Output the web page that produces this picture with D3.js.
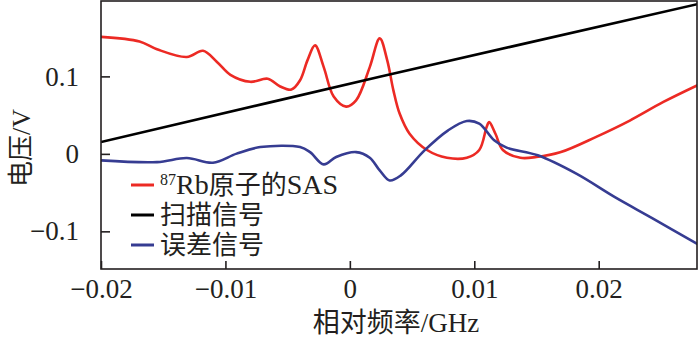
<!DOCTYPE html>
<html><head><meta charset="utf-8">
<script src="https://cdn.jsdelivr.net/npm/d3@7"></script>
<style>
html,body{margin:0;padding:0;background:#fff;}
text{font-family:"Liberation Serif",serif;fill:#231f20;}
.cjk{font-family:"Noto Sans CJK SC",sans-serif;}
</style></head>
<body><svg id="c" width="700" height="341"></svg>
<script>
// Data (frequency in GHz, voltage in V)
const sasX = [-0.0200,-0.0169,-0.0155,-0.0131,-0.0118,-0.0107,-0.0096,-0.0080,-0.0066,-0.0056,-0.0047,-0.0040,-0.0034,-0.0028,-0.0021,-0.0013,-0.0003,0.0005,0.0016,0.0024,0.0030,0.0035,0.0040,0.0048,0.0062,0.0078,0.0094,0.0104,0.0110,0.0112,0.0117,0.0123,0.0137,0.0150,0.0169,0.0198,0.0225,0.0252,0.0280];
const sasY = [0.151,0.145,0.135,0.125,0.133,0.119,0.102,0.093,0.097,0.087,0.083,0.095,0.121,0.140,0.112,0.074,0.061,0.069,0.112,0.149,0.121,0.082,0.052,0.026,0.005,-0.005,-0.005,0.005,0.035,0.041,0.026,0.005,-0.005,-0.004,0.002,0.022,0.043,0.067,0.089];
const scanX = [-0.0200,0.0024,0.0280];
const scanY = [0.0153,0.0994,0.1935];
const errX = [-0.0200,-0.0155,-0.0131,-0.0110,-0.0091,-0.0072,-0.0040,-0.0032,-0.0021,-0.0011,0.0005,0.0016,0.0024,0.0032,0.0041,0.0060,0.0079,0.0094,0.0104,0.0116,0.0126,0.0151,0.0182,0.0213,0.0244,0.0280];
const errY = [-0.0084,-0.0106,-0.0054,-0.0114,0.0003,0.0088,0.0088,0.0023,-0.0136,-0.0041,0.0023,-0.0049,-0.0213,-0.0343,-0.0278,0.0045,0.0304,0.0424,0.0391,0.0175,0.0080,-0.0019,-0.0256,-0.0559,-0.0838,-0.1170];
const xTicks = [-0.02,-0.01,0,0.01,0.02];
const xTickLabels = ["\u22120.02","\u22120.01","0","0.01","0.02"];
const yTicks = [-0.1,0,0.1];
const yTickLabels = ["\u22120.1","0","0.1"];
// legend pieces: [superscript, latin prefix, cjk, latin suffix]
const legendLabels = [["87","Rb","原子的","SAS"],["","","扫描信号",""],["","","误差信号",""]];
const colors = ["#ec2a24","#000000","#363c92"];

const svg = d3.select("#c");
const L=101,R=697,T=1,B=269;
const x = d3.scaleLinear().domain([-0.02,0.0279]).range([L,R]);
const y = d3.scaleLinear().domain([-0.1486,0.1973]).range([B,T]);

const series = [[sasX,sasY],[scanX,scanY],[errX,errY]];
const line = d3.line().x(d=>x(d[0])).y(d=>y(d[1])).curve(d3.curveCatmullRom.alpha(0.5));
svg.append("clipPath").attr("id","cp").append("rect").attr("x",L).attr("y",T).attr("width",R-L).attr("height",B-T);
const g = svg.append("g").attr("clip-path","url(#cp)");
series.forEach((s,i)=>{
  const pts = s[0].map((v,j)=>[v,s[1][j]]);
  g.append("path").attr("d",line(pts)).attr("fill","none").attr("stroke",colors[i]).attr("stroke-width",2.6).attr("stroke-linejoin","round");
});

// frame
svg.append("rect").attr("x",L).attr("y",T).attr("width",R-L).attr("height",B-T).attr("fill","none").attr("stroke","#231f20").attr("stroke-width",1.6);

// x axis
const xa = svg.append("g").attr("transform",`translate(0,${B})`)
  .call(d3.axisBottom(x).tickValues(xTicks).tickSizeInner(-8).tickSizeOuter(0).tickFormat((d,i)=>xTickLabels[i]).tickPadding(10));
xa.select(".domain").remove();
xa.selectAll("line").attr("stroke","#231f20").attr("stroke-width",1.6);
xa.selectAll("text").attr("font-size",27).attr("fill","#231f20").attr("font-family","Liberation Serif").attr("dy","0.71em");

const ya = svg.append("g").attr("transform",`translate(${L},0)`)
  .call(d3.axisLeft(y).tickValues(yTicks).tickSizeInner(-9).tickSizeOuter(0).tickFormat((d,i)=>yTickLabels[i]).tickPadding(22));
ya.select(".domain").remove();
ya.selectAll("line").attr("stroke","#231f20").attr("stroke-width",1.6);
ya.selectAll("text").attr("font-size",27).attr("fill","#231f20").attr("font-family","Liberation Serif");

// axis titles
const xt = svg.append("text").attr("x",396).attr("y",332).attr("text-anchor","middle").attr("font-size",27);
xt.append("tspan").attr("class","cjk").text("相对频率");
xt.append("tspan").text("/GHz");
const yt = svg.append("text").attr("transform","translate(30,148) rotate(-90)").attr("text-anchor","middle").attr("font-size",26);
yt.append("tspan").attr("class","cjk").text("电压");
yt.append("tspan").text("/V");

// legend
const ly = [185,215,245];
legendLabels.forEach((p,i)=>{
  svg.append("line").attr("x1",131).attr("x2",154).attr("y1",ly[i]).attr("y2",ly[i]).attr("stroke",colors[i]).attr("stroke-width",3);
  const tx = svg.append("text").attr("x",160).attr("y",ly[i]+9).attr("font-size",26);
  if(p[0]){
    tx.append("tspan").attr("font-size",16).attr("dy",-9).text(p[0]);
    tx.append("tspan").attr("dy",9).attr("font-size",28).text(p[1]);
  }
  tx.append("tspan").attr("class","cjk").text(p[2]);
  if(p[3]) tx.append("tspan").attr("font-size",28).text(p[3]);
});
</script></body></html>
